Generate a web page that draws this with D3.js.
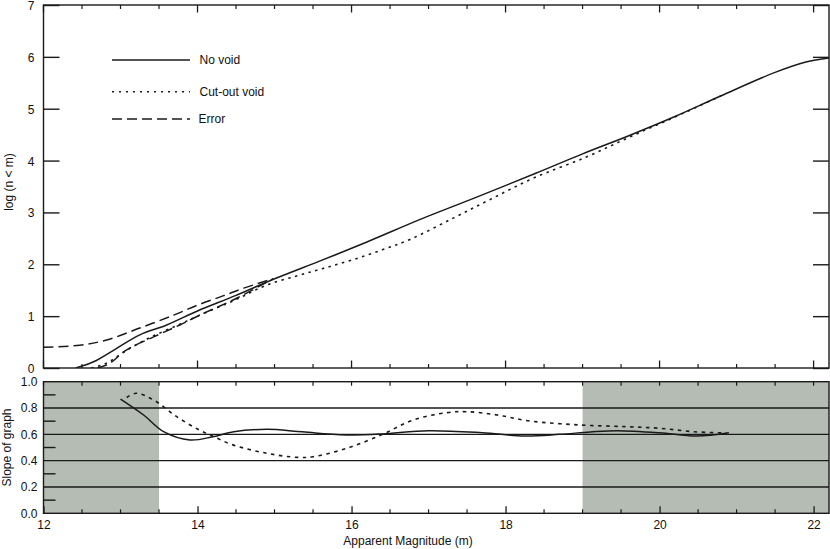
<!DOCTYPE html>
<html>
<head>
<meta charset="utf-8">
<script src="https://cdn.jsdelivr.net/npm/d3@7"></script>
<style>
  html, body { margin: 0; padding: 0; background: #fff; }
  svg { display: block; }
  text { font-family: "Liberation Sans", Arial, sans-serif; font-size: 12px; fill: #111; }
</style>
</head>
<body>
<svg id="chart" width="830" height="549"></svg>
<script>
// ---------- data ----------
// Top panel: log(n < m)
const noVoidM   = [12.42, 12.65, 12.95, 13.25, 13.6, 14.0, 14.5, 15.0, 15.6, 16.2, 16.9, 17.6, 18.4, 19.0, 19.6, 20.2, 20.8, 21.5, 21.9, 22.2];
const noVoidLog = [0.0, 0.12, 0.38, 0.64, 0.83, 1.10, 1.40, 1.72, 2.07, 2.43, 2.87, 3.28, 3.76, 4.13, 4.48, 4.85, 5.25, 5.70, 5.90, 5.98];

const cutM   = [12.62, 12.8, 13.1, 13.4, 13.75, 14.0, 14.5, 14.9, 15.3, 15.63, 16.0, 16.4, 16.76, 17.32, 17.8, 18.36, 19.05, 19.62, 20.2, 20.8];
const cutLog = [0.0, 0.08, 0.36, 0.60, 0.83, 1.00, 1.32, 1.60, 1.78, 1.92, 2.08, 2.28, 2.48, 2.89, 3.25, 3.66, 4.07, 4.46, 4.84, 5.25];

const errUpM   = [12.0, 12.47, 12.82, 13.25, 13.69, 14.03, 14.33, 14.6, 14.98];
const errUpLog = [0.40, 0.44, 0.54, 0.77, 1.02, 1.23, 1.39, 1.54, 1.72];

const errLoM   = [12.7, 12.85, 13.08, 13.43, 13.77, 14.03, 14.5, 14.98];
const errLoLog = [0.0, 0.08, 0.35, 0.60, 0.83, 1.02, 1.34, 1.72];

// Bottom panel: slope of graph
const slopeNoVoidM = [13.0, 13.3, 13.56, 13.9, 14.2, 14.47, 14.9, 15.3, 15.6, 16.0, 16.4, 17.0, 17.7, 18.25, 18.7, 19.1, 19.45, 20.0, 20.48, 20.9];
const slopeNoVoid  = [0.868, 0.747, 0.62, 0.557, 0.582, 0.62, 0.638, 0.622, 0.607, 0.595, 0.603, 0.628, 0.612, 0.587, 0.60, 0.618, 0.628, 0.612, 0.587, 0.612];

const slopeCutM = [13.08, 13.2, 13.43, 13.73, 14.0, 14.2, 14.46, 14.9, 15.3, 15.5, 15.94, 16.41, 16.8, 17.24, 17.5, 17.89, 18.32, 18.97, 19.57, 20.0, 20.44, 20.87];
const slopeCut  = [0.88, 0.912, 0.861, 0.734, 0.64, 0.585, 0.52, 0.456, 0.425, 0.43, 0.494, 0.602, 0.709, 0.765, 0.772, 0.747, 0.701, 0.671, 0.658, 0.646, 0.62, 0.61];

// Shaded (excluded) magnitude ranges in the bottom panel
const shadeRanges = [[12, 13.5], [19, 22.2]];

// Ticks and labels
const topYTicks = [0, 1, 2, 3, 4, 5, 6, 7];
const botYLabels = [0.0, 0.2, 0.4, 0.6, 0.8, 1.0];
const botYGrid = [0.2, 0.4, 0.6, 0.8];
const botYMinor = [0.1, 0.3, 0.5, 0.7, 0.9];
const xLabels = [12, 14, 16, 18, 20, 22];
const xMinor = d3.range(12.5, 22.2, 0.5).filter(v => v % 2 !== 0);

const legendItems = ["No void", "Cut-out void", "Error"];

// ---------- layout ----------
const svg = d3.select("#chart");
const left = 43.5, right = 829;
const topT = 5, topB = 368;
const botT = 381.7, botB = 513.3;
const ink = "#1a1a1a";

const x = d3.scaleLinear().domain([12, 22.2]).range([left, right]);
const yTop = d3.scaleLinear().domain([0, 7]).range([topB, topT]);
const yBot = d3.scaleLinear().domain([0, 1]).range([botB, botT]);

const curve = d3.curveCatmullRom.alpha(0.5);
const zip = (a, b) => a.map((v, i) => [v, b[i]]);

const defs = svg.append("defs");
defs.append("clipPath").attr("id", "clipTop").append("rect")
  .attr("x", left).attr("y", topT).attr("width", right - left).attr("height", topB - topT);
defs.append("clipPath").attr("id", "clipBot").append("rect")
  .attr("x", left).attr("y", botT).attr("width", right - left).attr("height", botB - botT);

// ---------- bottom panel ----------
const gb = svg.append("g");
gb.selectAll("rect.shade").data(shadeRanges).join("rect")
  .attr("class", "shade")
  .attr("x", d => x(d[0])).attr("width", d => x(d[1]) - x(d[0]))
  .attr("y", botT).attr("height", botB - botT)
  .attr("fill", "#b4bcb4");

gb.selectAll("line.grid").data(botYGrid).join("line")
  .attr("x1", left).attr("x2", right)
  .attr("y1", d => yBot(d)).attr("y2", d => yBot(d))
  .attr("stroke", ink).attr("stroke-width", 1.4);

gb.selectAll("line.yminor").data(botYMinor).join("line")
  .attr("x1", left).attr("x2", left + 12)
  .attr("y1", d => yBot(d)).attr("y2", d => yBot(d))
  .attr("stroke", ink).attr("stroke-width", 1.4);

// x ticks on bottom panel
const axBotB = d3.axisBottom(x).tickValues(xLabels).tickSize(-7).tickPadding(7).tickFormat(d3.format("d"));
const gxb = gb.append("g").attr("transform", `translate(0,${botB})`).call(axBotB);
gxb.select(".domain").remove();
gxb.selectAll("line").attr("stroke", ink).attr("stroke-width", 1.3);
gxb.selectAll("text").style("font-size", "12px").attr("fill", "#111");
gb.selectAll("line.xminb").data(xMinor).join("line")
  .attr("x1", d => x(d)).attr("x2", d => x(d))
  .attr("y1", botB).attr("y2", botB - 4)
  .attr("stroke", ink).attr("stroke-width", 1.2);
gb.selectAll("line.xmint").data(xMinor.concat(xLabels)).join("line")
  .attr("x1", d => x(d)).attr("x2", d => x(d))
  .attr("y1", botT).attr("y2", botT + 4)
  .attr("stroke", ink).attr("stroke-width", 1.2);

const axBotL = d3.axisLeft(yBot).tickValues(botYLabels).tickSize(0).tickPadding(6).tickFormat(d3.format(".1f"));
const gyb = gb.append("g").attr("transform", `translate(${left},0)`).call(axBotL);
gyb.select(".domain").remove();
gyb.selectAll("text").style("font-size", "12px").attr("fill", "#111");

const lineB = d3.line().x(d => x(d[0])).y(d => yBot(d[1])).curve(curve);
const cb = gb.append("g").attr("clip-path", "url(#clipBot)");
cb.append("path").attr("d", lineB(zip(slopeCutM, slopeCut)))
  .attr("fill", "none").attr("stroke", ink).attr("stroke-width", 1.6)
  .attr("stroke-dasharray", "3.5,4.5");
cb.append("path").attr("d", lineB(zip(slopeNoVoidM, slopeNoVoid)))
  .attr("fill", "none").attr("stroke", ink).attr("stroke-width", 1.5);

gb.append("rect").attr("x", left).attr("y", botT).attr("width", right - left).attr("height", botB - botT)
  .attr("fill", "none").attr("stroke", ink).attr("stroke-width", 1.4);

// ---------- top panel ----------
const gt = svg.append("g");
const axTopL = d3.axisLeft(yTop).tickValues(topYTicks).tickSize(-16).tickPadding(9).tickFormat(d3.format("d"));
const gyt = gt.append("g").attr("transform", `translate(${left},0)`).call(axTopL);
gyt.select(".domain").remove();
gyt.selectAll("line").attr("stroke", ink).attr("stroke-width", 1.4);
gyt.selectAll("text").style("font-size", "12px").attr("fill", "#111").attr("dy", "0.38em");

const axTopR = d3.axisRight(yTop).tickValues(topYTicks).tickSize(-16).tickFormat("");
const gyr = gt.append("g").attr("transform", `translate(${right},0)`).call(axTopR);
gyr.select(".domain").remove();
gyr.selectAll("line").attr("stroke", ink).attr("stroke-width", 1.4);

[topT, topB].forEach((yy, i) => {
  const dir = i === 0 ? 1 : -1;
  gt.append("g").selectAll("line").data(xLabels).join("line")
    .attr("x1", d => x(d)).attr("x2", d => x(d))
    .attr("y1", yy).attr("y2", yy + dir * 7.5)
    .attr("stroke", ink).attr("stroke-width", 1.3);
  gt.append("g").selectAll("line").data(xMinor).join("line")
    .attr("x1", d => x(d)).attr("x2", d => x(d))
    .attr("y1", yy).attr("y2", yy + dir * 4)
    .attr("stroke", ink).attr("stroke-width", 1.2);
});

const lineT = d3.line().x(d => x(d[0])).y(d => yTop(d[1])).curve(curve);
const ct = gt.append("g").attr("clip-path", "url(#clipTop)");
ct.append("path").attr("d", lineT(zip(errUpM, errUpLog)))
  .attr("fill", "none").attr("stroke", ink).attr("stroke-width", 1.5).attr("stroke-dasharray", "10,5");
ct.append("path").attr("d", lineT(zip(errLoM, errLoLog)))
  .attr("fill", "none").attr("stroke", ink).attr("stroke-width", 1.5).attr("stroke-dasharray", "10,5");
ct.append("path").attr("d", lineT(zip(cutM, cutLog)))
  .attr("fill", "none").attr("stroke", ink).attr("stroke-width", 1.6).attr("stroke-dasharray", "2.5,4.5");
ct.append("path").attr("d", lineT(zip(noVoidM, noVoidLog)))
  .attr("fill", "none").attr("stroke", ink).attr("stroke-width", 1.5);

gt.append("rect").attr("x", left).attr("y", topT).attr("width", right - left).attr("height", topB - topT)
  .attr("fill", "none").attr("stroke", ink).attr("stroke-width", 1.4);

// ---------- legend ----------
const legendY = [60, 91.7, 119];
const legendDash = [null, "2,5", "10,5"];
const lg = svg.append("g");
legendItems.forEach((name, i) => {
  lg.append("line").attr("x1", 112).attr("x2", 190)
    .attr("y1", legendY[i]).attr("y2", legendY[i])
    .attr("stroke", ink).attr("stroke-width", 1.6)
    .attr("stroke-dasharray", legendDash[i]);
  lg.append("text").attr("x", i === 2 ? 198.5 : 199.5).attr("y", legendY[i] + 4.3).text(name);
});

// ---------- axis titles ----------
svg.append("text").attr("x", 408).attr("y", 544.5).attr("text-anchor", "middle").text("Apparent Magnitude (m)");
svg.append("text").attr("transform", "translate(12.5,182) rotate(-90)").attr("text-anchor", "middle").text("log (n < m)");
svg.append("text").attr("transform", "translate(10.5,447.5) rotate(-90)").attr("text-anchor", "middle").text("Slope of graph");
</script>
</body>
</html>
